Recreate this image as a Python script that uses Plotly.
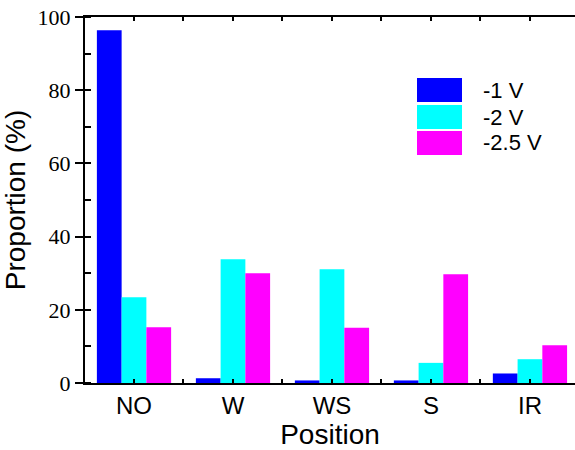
import plotly.graph_objects as go

categories = ["NO", "W", "WS", "S", "IR"]
series_names = ["-1 V", "-2 V", "-2.5 V"]
v_1 = [96.4, 1.3, 0.7, 0.7, 2.6]
v_2 = [23.4, 33.8, 31.1, 5.5, 6.5]
v_25 = [15.2, 30.0, 15.1, 29.7, 10.3]
colors = ["#0000FF", "#00FFFF", "#FF00FF"]
y_ticks = [0, 20, 40, 60, 80, 100]

xpos = list(range(len(categories)))
fig = go.Figure()
for name, vals, col in zip(series_names, [v_1, v_2, v_25], colors):
    fig.add_trace(go.Bar(x=xpos, y=vals, name=name, marker=dict(color=col, line=dict(width=0))))

fig.update_layout(
    width=575, height=450,
    margin=dict(l=85, r=0, t=17, b=67),
    paper_bgcolor="white", plot_bgcolor="white",
    barmode="group", bargap=0.25, bargroupgap=0,
    showlegend=False,
    font=dict(family="Liberation Sans, Arial", color="black"),
)
fig.update_xaxes(
    range=[-0.495, 4.455], tickvals=xpos, ticktext=categories,
    showline=True, linecolor="black", linewidth=2, mirror="allticks",
    ticks="inside", ticklen=4, tickwidth=2, tickcolor="black",
    minor=dict(tickvals=[i + 0.5 for i in range(-1, len(categories))], ticks="inside", ticklen=4, tickwidth=2, tickcolor="black"),
    tickfont=dict(size=24, family="Liberation Sans, Arial"),
    showgrid=False, zeroline=False,
    title=dict(text="Position", font=dict(size=28), standoff=6),
)
fig.update_yaxes(
    range=[0, 100], tickvals=y_ticks,
    showline=True, linecolor="black", linewidth=2,
    ticks="outside", ticklen=8, tickwidth=2, tickcolor="black",
    minor=dict(dtick=10, ticks="inside", ticklen=6, tickwidth=2, tickcolor="black"),
    tickfont=dict(size=22, family="Liberation Serif, Times New Roman"),
    showgrid=False, zeroline=False,
    title=dict(text="Proportion (%)", font=dict(size=28), standoff=4),
)

# manual legend
leg_top = [78, 105, 131]
for name, col, ytop in zip(series_names, colors, leg_top):
    fig.add_shape(type="rect", xref="paper", yref="paper",
                  x0=(417 - 85) / 490, x1=(462 - 85) / 490,
                  y0=1 - (ytop + 24 - 17) / 366, y1=1 - (ytop - 17) / 366,
                  fillcolor=col, line=dict(width=0))
    fig.add_annotation(xref="paper", yref="paper", x=(481 - 85) / 490, y=1 - (ytop + 12 - 17) / 366,
                       text=name, showarrow=False, xanchor="left", yanchor="middle",
                       font=dict(size=22, family="Liberation Sans, Arial", color="black"))

fig.write_html("out.html")
